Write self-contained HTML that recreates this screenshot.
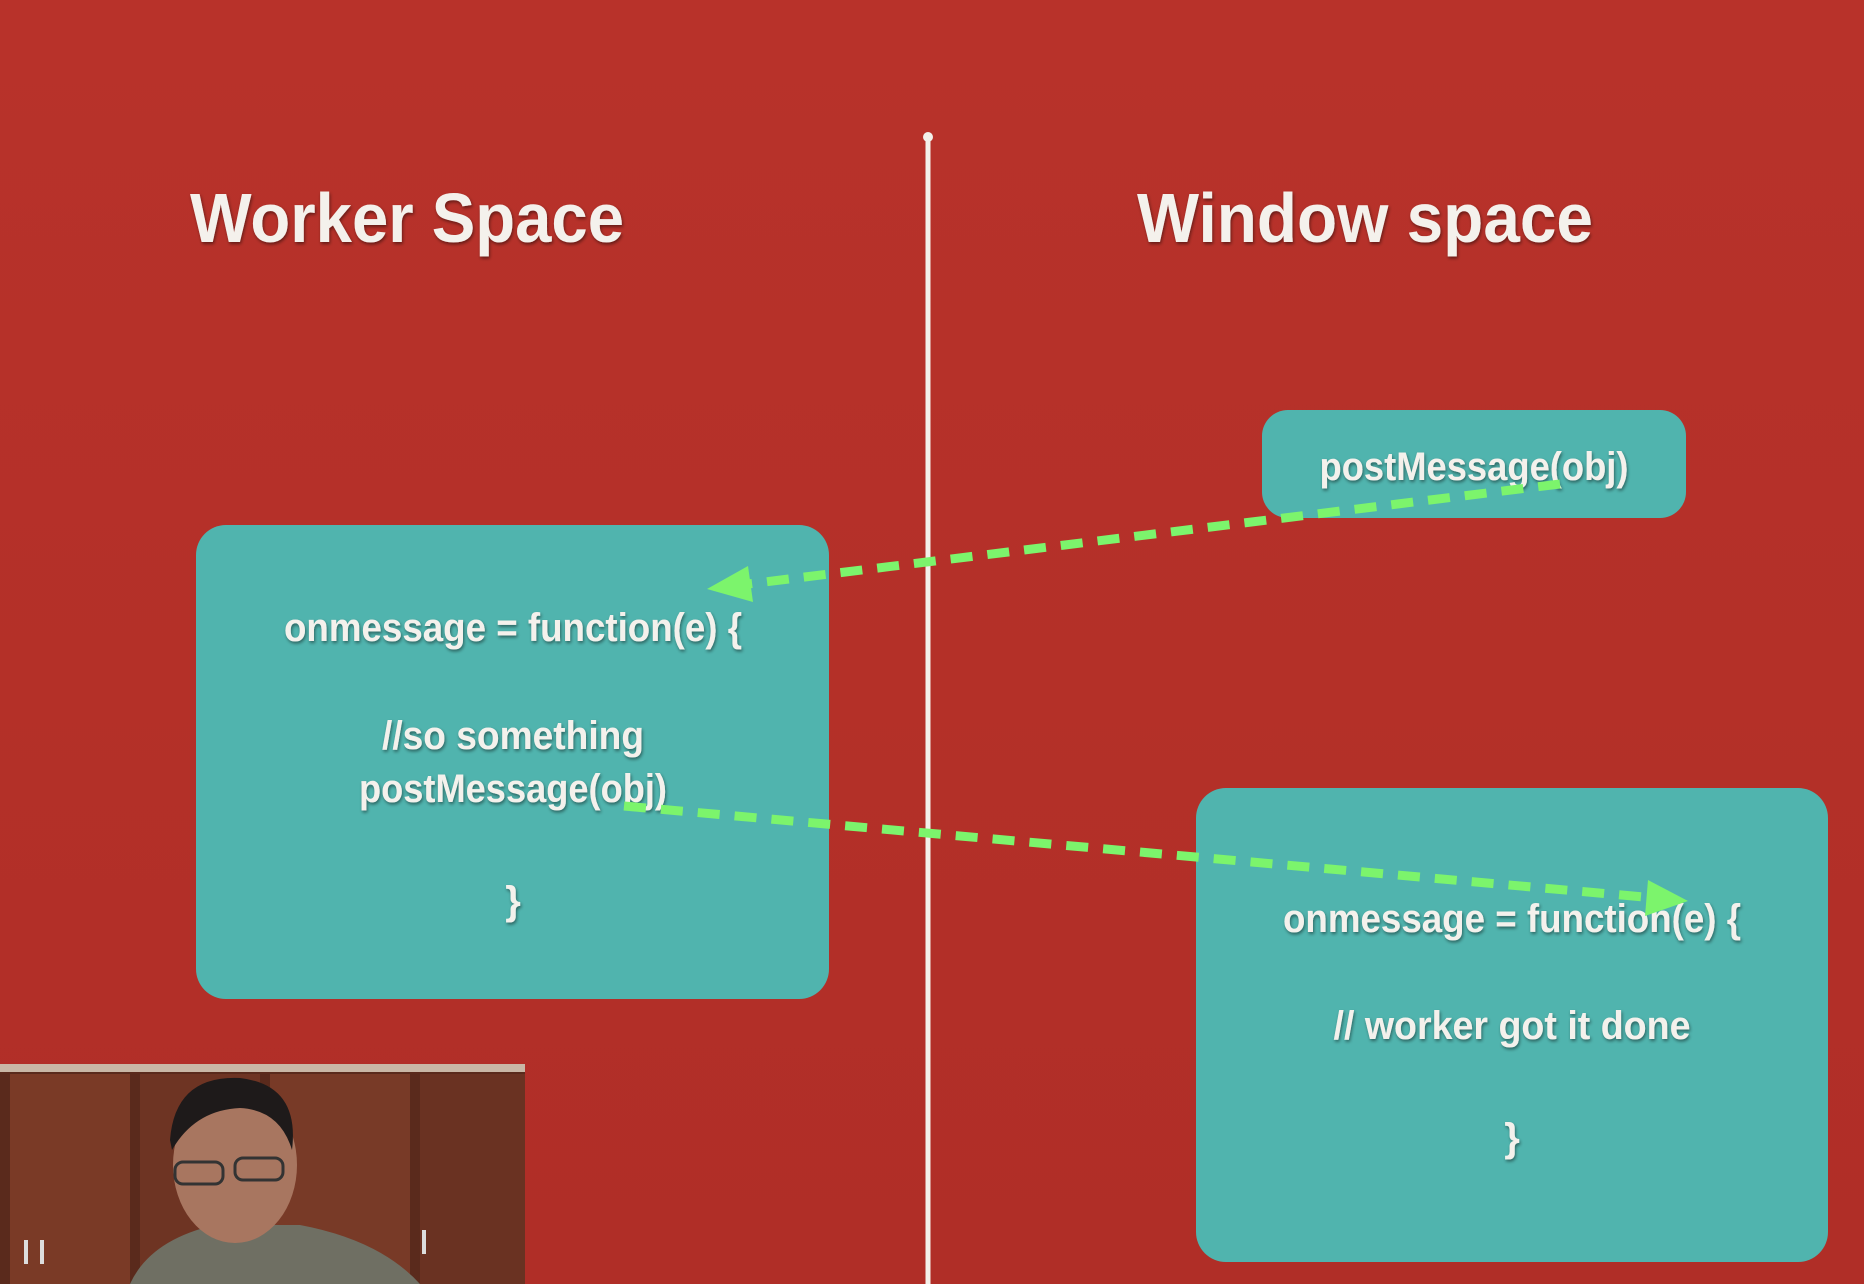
<!DOCTYPE html>
<html><head><meta charset="utf-8"><style>
html,body{margin:0;padding:0;background:#b5312a;}
svg{display:block}
text{font-family:"Liberation Sans",sans-serif;font-weight:bold;fill:#f4f1ec;}
</style></head><body>
<svg width="1864" height="1284" viewBox="0 0 1864 1284" xmlns="http://www.w3.org/2000/svg">
<defs>
<linearGradient id="bg" x1="0" y1="0" x2="0" y2="1"><stop offset="0" stop-color="#b8322a"/><stop offset="1" stop-color="#b02e27"/></linearGradient>
<filter id="sh"><feDropShadow dx="1" dy="2" stdDeviation="1.5" flood-color="#000" flood-opacity="0.45"/></filter>
</defs>
<rect width="1864" height="1284" fill="url(#bg)"/>
<line x1="928" y1="137" x2="928" y2="1284" stroke="#f3f0ea" stroke-width="5"/>
<circle cx="928" cy="137" r="5" fill="#f3f0ea"/>
<text x="407" y="242" font-size="70" text-anchor="middle" textLength="434" lengthAdjust="spacingAndGlyphs" filter="url(#sh)">Worker Space</text>
<text x="1365" y="242" font-size="70" text-anchor="middle" textLength="456" lengthAdjust="spacingAndGlyphs" filter="url(#sh)">Window space</text>

<rect x="196" y="525" width="633" height="474" rx="30" fill="#50b4ae"/>
<rect x="1262" y="410" width="424" height="108" rx="26" fill="#50b4ae"/>
<rect x="1196" y="788" width="632" height="474" rx="30" fill="#50b4ae"/>

<g font-size="40" text-anchor="middle" filter="url(#sh)">
<text x="513" y="641" textLength="458" lengthAdjust="spacingAndGlyphs">onmessage = function(e) {</text>
<text x="513" y="749" textLength="262" lengthAdjust="spacingAndGlyphs">//so something</text>
<text x="513" y="802" textLength="308" lengthAdjust="spacingAndGlyphs">postMessage(obj)</text>
<text x="513" y="914">}</text>
<text x="1474" y="480" textLength="309" lengthAdjust="spacingAndGlyphs">postMessage(obj)</text>
<text x="1512" y="932" textLength="458" lengthAdjust="spacingAndGlyphs">onmessage = function(e) {</text>
<text x="1512" y="1039" textLength="357" lengthAdjust="spacingAndGlyphs">// worker got it done</text>
<text x="1512" y="1151">}</text>
</g>

<g stroke="#7cf46c" stroke-width="9" stroke-dasharray="22 15" fill="none">
<line x1="1560" y1="484" x2="740" y2="585"/>
<line x1="624" y1="806" x2="1655" y2="898"/>
</g>
<polygon points="707,589 748,566 753,602" fill="#7cf46c"/>
<polygon points="1688,901 1648,880 1645,916" fill="#7cf46c"/>

<!-- webcam -->
<rect x="0" y="1064" width="525" height="220" fill="#5a2a1c"/>
<rect x="0" y="1064" width="525" height="8" fill="#c9b7a6"/>
<rect x="10" y="1074" width="120" height="210" fill="#7a3a26"/>
<rect x="140" y="1074" width="120" height="210" fill="#6e3423"/>
<rect x="270" y="1074" width="140" height="210" fill="#783a27"/>
<rect x="420" y="1074" width="105" height="210" fill="#6a3222"/>
<rect x="24" y="1240" width="4" height="24" fill="#ddd"/>
<rect x="40" y="1240" width="4" height="24" fill="#ddd"/>
<rect x="422" y="1230" width="4" height="24" fill="#ddd"/>
<path d="M130,1284 Q150,1240 215,1225 L300,1225 Q380,1240 420,1284 Z" fill="#6f6f63"/>
<ellipse cx="235" cy="1165" rx="62" ry="78" fill="#a87660"/>
<path d="M170,1140 Q175,1075 240,1078 Q300,1085 292,1150 Q280,1110 240,1108 Q195,1110 172,1150 Z" fill="#1e1a1a"/>
<rect x="175" y="1162" width="48" height="22" rx="8" fill="none" stroke="#333" stroke-width="3"/>
<rect x="235" y="1158" width="48" height="22" rx="8" fill="none" stroke="#333" stroke-width="3"/>
</svg>
</body></html>
